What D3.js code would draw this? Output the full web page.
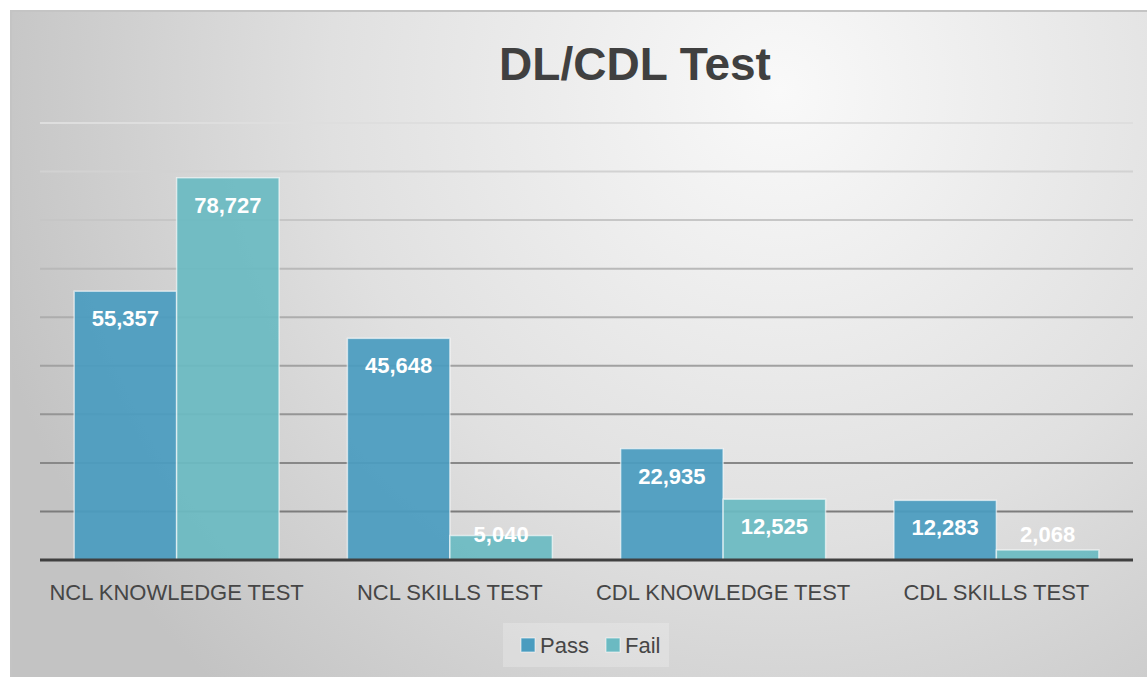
<!DOCTYPE html>
<html>
<head>
<meta charset="utf-8">
<script src="https://cdn.jsdelivr.net/npm/d3@7"></script>
<style>
  body { margin: 0; background: #fff; }
  svg { display: block; }
</style>
</head>
<body>
<div id="chart"></div>
<script>
const categories = ["NCL KNOWLEDGE TEST", "NCL SKILLS TEST", "CDL KNOWLEDGE TEST", "CDL SKILLS TEST"];
const seriesNames = ["Pass", "Fail"];
const passValues = [55357, 45648, 22935, 12283];
const failValues = [78727, 5040, 12525, 2068];
const yTicks = [10000, 20000, 30000, 40000, 50000, 60000, 70000, 80000, 90000];

const width = 1147;
const height = 677;
const colors = { Pass: "#4a9cbf", Fail: "#6bbac2" };

const data = categories.map((c, i) => ({
  category: c,
  values: [
    { key: "Pass", value: passValues[i] },
    { key: "Fail", value: failValues[i] }
  ]
}));

const svg = d3.select("#chart")
  .append("svg")
  .attr("width", width)
  .attr("height", height);

const defs = svg.append("defs");

// background: light in upper middle, grey at the edges
const bg = defs.append("radialGradient")
  .attr("id", "bg")
  .attr("gradientUnits", "userSpaceOnUse")
  .attr("cx", 780).attr("cy", 90).attr("r", 820);
bg.append("stop").attr("offset", "0%").attr("stop-color", "#f9f9f9");
bg.append("stop").attr("offset", "55%").attr("stop-color", "#e0e0e0");
bg.append("stop").attr("offset", "100%").attr("stop-color", "#c3c3c3");

svg.append("rect")
  .attr("x", 10).attr("y", 10)
  .attr("width", width - 10).attr("height", height - 10)
  .attr("fill", "url(#bg)");

// top and left edge of the chart frame
svg.append("line").attr("x1", 10).attr("x2", width).attr("y1", 11).attr("y2", 11)
  .attr("stroke", "#c4c4c4").attr("stroke-width", 2);
svg.append("line").attr("x1", 11).attr("x2", 11).attr("y1", 10).attr("y2", height)
  .attr("stroke", "#c4c4c4").attr("stroke-width", 2);

const x0 = d3.scaleBand()
  .domain(categories)
  .range([40, 1133])
  .paddingInner(0.25)
  .paddingOuter(0.125);

const x1 = d3.scaleBand()
  .domain(seriesNames)
  .range([0, x0.bandwidth()]);

const y = d3.scaleLinear()
  .domain([0, 90000])
  .range([560, 123]);

// gridlines get darker toward the bottom
const gridColor = d3.scaleLinear()
  .domain([90000, 0])
  .range(["#dedede", "#707070"]);

svg.append("g")
  .selectAll("line")
  .data(yTicks)
  .join("line")
  .attr("x1", 40)
  .attr("x2", 1133)
  .attr("y1", d => y(d))
  .attr("y2", d => y(d))
  .attr("stroke", d => gridColor(d))
  .attr("stroke-width", 2);

// bars
const groups = svg.append("g")
  .selectAll("g")
  .data(data)
  .join("g")
  .attr("transform", d => `translate(${x0(d.category)},0)`);

groups.selectAll("rect")
  .data(d => d.values)
  .join("rect")
  .attr("x", d => x1(d.key))
  .attr("y", d => y(d.value))
  .attr("width", x1.bandwidth())
  .attr("height", d => y(0) - y(d.value))
  .attr("fill", d => colors[d.key])
  .attr("fill-opacity", 0.93)
  .attr("stroke", "rgba(255,255,255,0.6)")
  .attr("stroke-width", 1.5);

groups.selectAll("text")
  .data(d => d.values)
  .join("text")
  .attr("x", d => x1(d.key) + x1.bandwidth() / 2)
  .attr("y", d => Math.min(y(d.value) + 27, y(0) - 26))
  .attr("dy", "0.36em")
  .attr("text-anchor", "middle")
  .attr("fill", "#fff")
  .attr("font-family", "Liberation Sans, Arial, sans-serif")
  .attr("font-weight", "bold")
  .attr("font-size", 22)
  .text(d => d3.format(",")(d.value));

// baseline
svg.append("line")
  .attr("x1", 40).attr("x2", 1133)
  .attr("y1", y(0)).attr("y2", y(0))
  .attr("stroke", "#404040")
  .attr("stroke-width", 3);

// category axis
const xAxis = svg.append("g")
  .attr("transform", `translate(0,${y(0)})`)
  .call(d3.axisBottom(x0).tickSize(0).tickPadding(24));
xAxis.select(".domain").remove();
xAxis.selectAll("text")
  .attr("fill", "#464646")
  .attr("font-family", "Liberation Sans, Arial, sans-serif")
  .attr("font-size", 22);

// title
svg.append("text")
  .attr("x", 635)
  .attr("y", 80)
  .attr("text-anchor", "middle")
  .attr("fill", "#404040")
  .attr("font-family", "Liberation Sans, Arial, sans-serif")
  .attr("font-weight", "bold")
  .attr("font-size", 46)
  .text("DL/CDL Test");

// legend
const legend = svg.append("g");
legend.append("rect")
  .attr("x", 503).attr("y", 623)
  .attr("width", 166).attr("height", 44)
  .attr("fill", "#ffffff").attr("fill-opacity", 0.22);

const legendX = { Pass: 521, Fail: 606 };
const items = legend.selectAll("g")
  .data(seriesNames)
  .join("g")
  .attr("transform", d => `translate(${legendX[d]},638)`);
items.append("rect")
  .attr("width", 14).attr("height", 14)
  .attr("fill", d => colors[d])
  .attr("stroke", "rgba(255,255,255,0.6)");
items.append("text")
  .attr("x", 19)
  .attr("y", 15)
  .attr("fill", "#464646")
  .attr("font-family", "Liberation Sans, Arial, sans-serif")
  .attr("font-size", 22)
  .text(d => d);
</script>
</body>
</html>
